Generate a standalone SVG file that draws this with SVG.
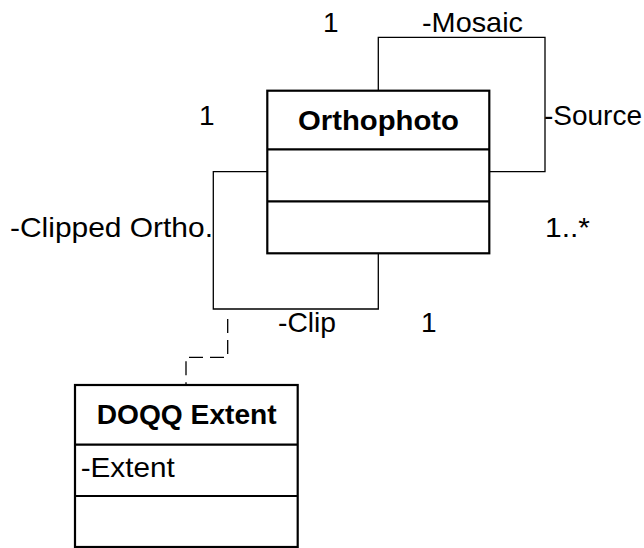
<svg xmlns="http://www.w3.org/2000/svg" width="644" height="548" viewBox="0 0 644 548">
<style>
.box{fill:#fff;stroke:#000;stroke-width:2.2}
.div{stroke:#000;stroke-width:2.2}
.conn{fill:none;stroke:#000;stroke-width:1.3}
.dash{fill:none;stroke:#000;stroke-width:1.3;stroke-dasharray:14 7}
text{font-family:"Liberation Sans",Arial,sans-serif;font-size:28px;fill:#000}
.b{font-weight:bold}
</style>
<rect width="644" height="548" fill="#fff"/>
<g id="connectors">
<polyline class="conn" points="378.3,90.7 378.3,37.3 545,37.3 545,171.7 489.3,171.7"/>
<polyline class="conn" points="267.3,171.7 213.3,171.7 213.3,309 378.3,309 378.3,253.3"/>
<polyline class="dash" points="227.7,319 227.7,357.3 186,357.3 186,385"/>
<text x="323" y="32">1</text>
<text x="422" y="32" textLength="101" lengthAdjust="spacingAndGlyphs">-Mosaic</text>
<text x="199" y="125">1</text>
<text x="544" y="124.5" textLength="98" lengthAdjust="spacingAndGlyphs">-Source</text>
<text x="10" y="237" textLength="203" lengthAdjust="spacingAndGlyphs">-Clipped Ortho.</text>
<text x="545" y="237" textLength="45" lengthAdjust="spacingAndGlyphs">1..*</text>
<text x="278" y="331.5" textLength="58" lengthAdjust="spacingAndGlyphs">-Clip</text>
<text x="421" y="331.5">1</text>
</g>
<g id="orthophoto">
<rect class="box" x="267.3" y="90.7" width="222" height="162.6"/>
<line class="div" x1="267.3" y1="149.3" x2="489.3" y2="149.3"/>
<line class="div" x1="267.3" y1="201.3" x2="489.3" y2="201.3"/>
<text class="b" x="298" y="129.5" textLength="161" lengthAdjust="spacingAndGlyphs">Orthophoto</text>
</g>
<g id="doqq-extent">
<rect class="box" x="75" y="385" width="222.7" height="162"/>
<line class="div" x1="75" y1="444.7" x2="297.7" y2="444.7"/>
<line class="div" x1="75" y1="496" x2="297.7" y2="496"/>
<text class="b" x="96.7" y="424" textLength="180" lengthAdjust="spacingAndGlyphs">DOQQ Extent</text>
<text x="80.7" y="477" textLength="94" lengthAdjust="spacingAndGlyphs">-Extent</text>
</g>
</svg>
